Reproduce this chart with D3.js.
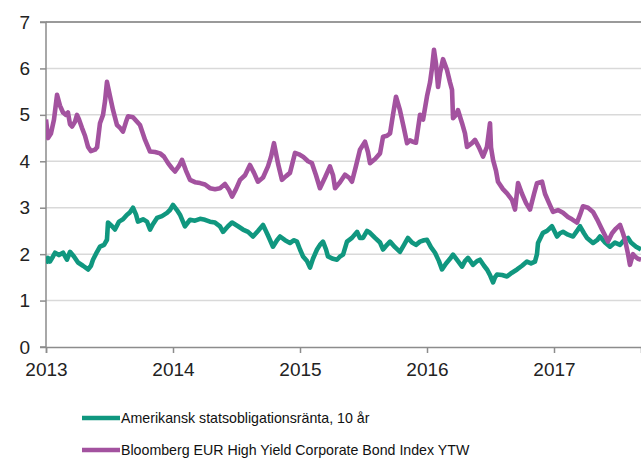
<!DOCTYPE html>
<html>
<head>
<meta charset="utf-8">
<script src="https://cdn.jsdelivr.net/npm/d3@7"></script>
<style>
  body { margin: 0; background: #fff; }
  svg { display: block; font-family: "Liberation Sans", Arial, sans-serif; }
</style>
</head>
<body>
<div id="content"></div>
<script>
// dates as decimal years, values in percent
const bondDates = [2013.000,2013.016,2013.039,2013.063,2013.087,2013.110,2013.134,2013.157,2013.173,2013.189,2013.205,2013.228,2013.244,2013.260,2013.283,2013.307,2013.331,2013.354,2013.386,2013.402,2013.425,2013.449,2013.465,2013.480,2013.504,2013.528,2013.559,2013.583,2013.606,2013.630,2013.646,2013.685,2013.717,2013.740,2013.780,2013.819,2013.858,2013.898,2013.929,2013.961,2013.992,2014.016,2014.047,2014.071,2014.102,2014.134,2014.173,2014.213,2014.252,2014.291,2014.331,2014.370,2014.409,2014.441,2014.465,2014.496,2014.528,2014.567,2014.606,2014.638,2014.669,2014.709,2014.748,2014.772,2014.795,2014.827,2014.858,2014.890,2014.921,2014.961,2014.992,2015.024,2015.063,2015.094,2015.126,2015.157,2015.197,2015.236,2015.260,2015.276,2015.315,2015.354,2015.386,2015.409,2015.441,2015.472,2015.512,2015.535,2015.551,2015.591,2015.630,2015.654,2015.685,2015.709,2015.732,2015.756,2015.787,2015.819,2015.843,2015.866,2015.890,2015.913,2015.945,2015.969,2016.000,2016.024,2016.039,2016.055,2016.071,2016.087,2016.102,2016.126,2016.157,2016.181,2016.197,2016.205,2016.228,2016.244,2016.276,2016.299,2016.315,2016.354,2016.378,2016.409,2016.441,2016.472,2016.496,2016.504,2016.520,2016.543,2016.559,2016.598,2016.630,2016.669,2016.693,2016.717,2016.748,2016.780,2016.811,2016.843,2016.866,2016.906,2016.929,2016.961,2016.992,2017.031,2017.071,2017.110,2017.142,2017.181,2017.205,2017.228,2017.268,2017.307,2017.339,2017.378,2017.402,2017.425,2017.457,2017.488,2017.520,2017.543,2017.559,2017.583,2017.598,2017.622,2017.638,2017.661,2017.685];
const bondValues = [4.9,4.5,4.6,4.9,5.43,5.2,5.05,5.0,5.05,4.8,4.75,4.85,5.0,4.9,4.72,4.55,4.31,4.22,4.25,4.3,4.82,5.0,5.3,5.71,5.4,5.1,4.78,4.72,4.64,4.85,4.97,4.95,4.85,4.78,4.46,4.21,4.2,4.17,4.1,3.96,3.85,3.78,3.9,4.03,3.8,3.6,3.55,3.53,3.5,3.42,3.4,3.42,3.51,3.38,3.24,3.4,3.6,3.7,3.92,3.75,3.56,3.65,3.89,4.1,4.39,3.95,3.6,3.68,3.75,4.18,4.15,4.1,4.0,3.96,3.7,3.42,3.65,3.89,3.7,3.42,3.55,3.71,3.65,3.56,3.9,4.25,4.42,4.2,3.96,4.05,4.17,4.53,4.55,4.6,5.0,5.39,5.1,4.7,4.39,4.45,4.42,4.4,5.0,4.9,5.4,5.7,6.0,6.4,6.1,5.6,5.9,6.2,5.97,5.7,5.54,4.93,5.0,5.1,4.82,4.6,4.31,4.39,4.46,4.3,4.1,4.31,4.82,4.3,4.03,3.8,3.56,3.4,3.31,3.17,2.96,3.53,3.3,3.1,2.96,3.3,3.53,3.56,3.3,3.1,2.91,2.95,2.89,2.8,2.75,2.68,2.85,3.03,3.0,2.91,2.75,2.53,2.4,2.27,2.45,2.55,2.63,2.45,2.31,2.0,1.77,2.0,1.95,1.9,1.88];

const treasuryDates = [2013.000,2013.016,2013.031,2013.055,2013.071,2013.102,2013.134,2013.165,2013.189,2013.220,2013.252,2013.291,2013.331,2013.354,2013.370,2013.402,2013.425,2013.457,2013.480,2013.488,2013.520,2013.543,2013.575,2013.606,2013.638,2013.661,2013.685,2013.709,2013.724,2013.764,2013.795,2013.819,2013.843,2013.874,2013.913,2013.953,2013.976,2014.000,2014.031,2014.055,2014.094,2014.134,2014.173,2014.213,2014.252,2014.291,2014.331,2014.370,2014.394,2014.433,2014.465,2014.512,2014.551,2014.591,2014.630,2014.669,2014.709,2014.748,2014.787,2014.819,2014.843,2014.882,2014.921,2014.953,2014.976,2015.000,2015.024,2015.055,2015.079,2015.102,2015.134,2015.157,2015.181,2015.205,2015.220,2015.260,2015.291,2015.315,2015.339,2015.370,2015.409,2015.449,2015.472,2015.496,2015.528,2015.551,2015.591,2015.630,2015.654,2015.685,2015.709,2015.748,2015.787,2015.819,2015.850,2015.882,2015.913,2015.945,2015.976,2016.000,2016.031,2016.063,2016.094,2016.118,2016.150,2016.181,2016.205,2016.244,2016.276,2016.299,2016.323,2016.362,2016.394,2016.417,2016.449,2016.472,2016.496,2016.520,2016.535,2016.551,2016.591,2016.630,2016.669,2016.709,2016.748,2016.787,2016.819,2016.850,2016.866,2016.874,2016.913,2016.945,2016.984,2017.024,2017.047,2017.071,2017.110,2017.150,2017.181,2017.205,2017.236,2017.260,2017.307,2017.339,2017.362,2017.402,2017.441,2017.480,2017.520,2017.551,2017.583,2017.606,2017.646,2017.685];
const treasuryValues = [1.8,1.92,1.84,1.95,2.03,1.98,2.03,1.88,2.05,1.95,1.82,1.75,1.67,1.75,1.88,2.05,2.16,2.2,2.31,2.68,2.6,2.53,2.7,2.75,2.85,2.9,3.0,2.85,2.7,2.75,2.7,2.53,2.65,2.78,2.82,2.89,2.95,3.06,2.95,2.85,2.6,2.74,2.72,2.76,2.74,2.7,2.68,2.6,2.48,2.6,2.68,2.6,2.53,2.48,2.38,2.5,2.63,2.4,2.16,2.3,2.38,2.3,2.24,2.3,2.27,2.1,1.95,1.85,1.71,1.9,2.1,2.2,2.27,2.1,1.95,1.9,1.88,1.95,1.99,2.27,2.35,2.48,2.35,2.35,2.5,2.46,2.35,2.25,2.1,2.2,2.27,2.15,2.05,2.2,2.35,2.25,2.2,2.27,2.3,2.31,2.15,2.03,1.85,1.67,1.8,1.9,1.99,1.85,1.73,1.85,1.92,1.77,1.85,1.88,1.75,1.67,1.55,1.39,1.5,1.56,1.55,1.52,1.6,1.67,1.75,1.84,1.8,1.84,2.0,2.24,2.46,2.5,2.6,2.38,2.45,2.48,2.42,2.38,2.5,2.6,2.45,2.35,2.24,2.3,2.38,2.25,2.16,2.25,2.2,2.3,2.35,2.25,2.16,2.1];

const yearTicks = [2013, 2014, 2015, 2016, 2017];
const yTicks = [0, 1, 2, 3, 4, 5, 6, 7];
const seriesNames = ["Amerikansk statsobligationsränta, 10 år", "Bloomberg EUR High Yield Corporate Bond Index YTW"];
const seriesColors = ["#10977f", "#a3529f"];

const w = 641, h = 463;
const margin = {left: 46, right: 0, top: 22, bottom: 116};

const svg = d3.select("#content").append("svg").attr("width", w).attr("height", h);

const xScale = d3.scaleLinear().domain([2013, 2017.685]).range([margin.left, w - margin.right]);
const yScale = d3.scaleLinear().domain([0, 7]).range([h - margin.bottom, margin.top]);

// gridlines
svg.append("g").selectAll("line").data(yTicks.filter(d => d > 0)).enter().append("line")
  .attr("x1", margin.left).attr("x2", w)
  .attr("y1", d => yScale(d)).attr("y2", d => yScale(d))
  .attr("stroke", d => d == 7 ? "#9a9a9a" : "#d9d9d9")
  .attr("stroke-width", d => d == 7 ? 2 : 1.5);

const yAxis = d3.axisLeft(yScale).tickValues(yTicks).tickSize(6).tickPadding(10).tickFormat(d3.format("d"));
const xAxis = d3.axisBottom(xScale).tickValues(yearTicks).tickSize(6).tickPadding(10).tickFormat(d => d);

const gy = svg.append("g").attr("transform", `translate(${margin.left},0)`).call(yAxis);
const gx = svg.append("g").attr("transform", `translate(0,${h - margin.bottom})`).call(xAxis);
[gx, gy].forEach(g => {
  g.select(".domain").attr("stroke", "#8c8c8c").attr("stroke-width", 1.5);
  g.selectAll(".tick line").attr("stroke", "#8c8c8c").attr("stroke-width", 1.5);
  g.selectAll(".tick text").attr("fill", "#222").style("font-size", "19px").style("font-family", "Liberation Sans, Arial, sans-serif");
});
gy.select(".domain").attr("d", `M-6,${margin.top}H0V${h - margin.bottom}H-6`);

const line = d3.line().x(d => xScale(d[0])).y(d => yScale(d[1]));

svg.append("clipPath").attr("id", "clip").append("rect")
  .attr("x", margin.left).attr("y", 0).attr("width", w - margin.left).attr("height", h - margin.bottom);

const series = [d3.zip(treasuryDates, treasuryValues), d3.zip(bondDates, bondValues)];
svg.append("g").attr("clip-path", "url(#clip)").selectAll("path").data(series).enter().append("path")
  .attr("d", line)
  .attr("fill", "none")
  .attr("stroke", (d, i) => seriesColors[i])
  .attr("stroke-width", 4.6)
  .attr("stroke-linejoin", "round");

// legend
const legend = svg.append("g").selectAll("g").data(seriesNames).enter().append("g")
  .attr("transform", (d, i) => `translate(82,${418 + i * 32})`);
legend.append("line").attr("x1", 0).attr("x2", 38).attr("y1", 0).attr("y2", 0)
  .attr("stroke", (d, i) => seriesColors[i]).attr("stroke-width", 4.5);
legend.append("text").attr("x", 39).attr("y", 5).style("font-size", "14.2px").attr("fill", "#111")
  .text(d => d);
</script>
</body>
</html>
